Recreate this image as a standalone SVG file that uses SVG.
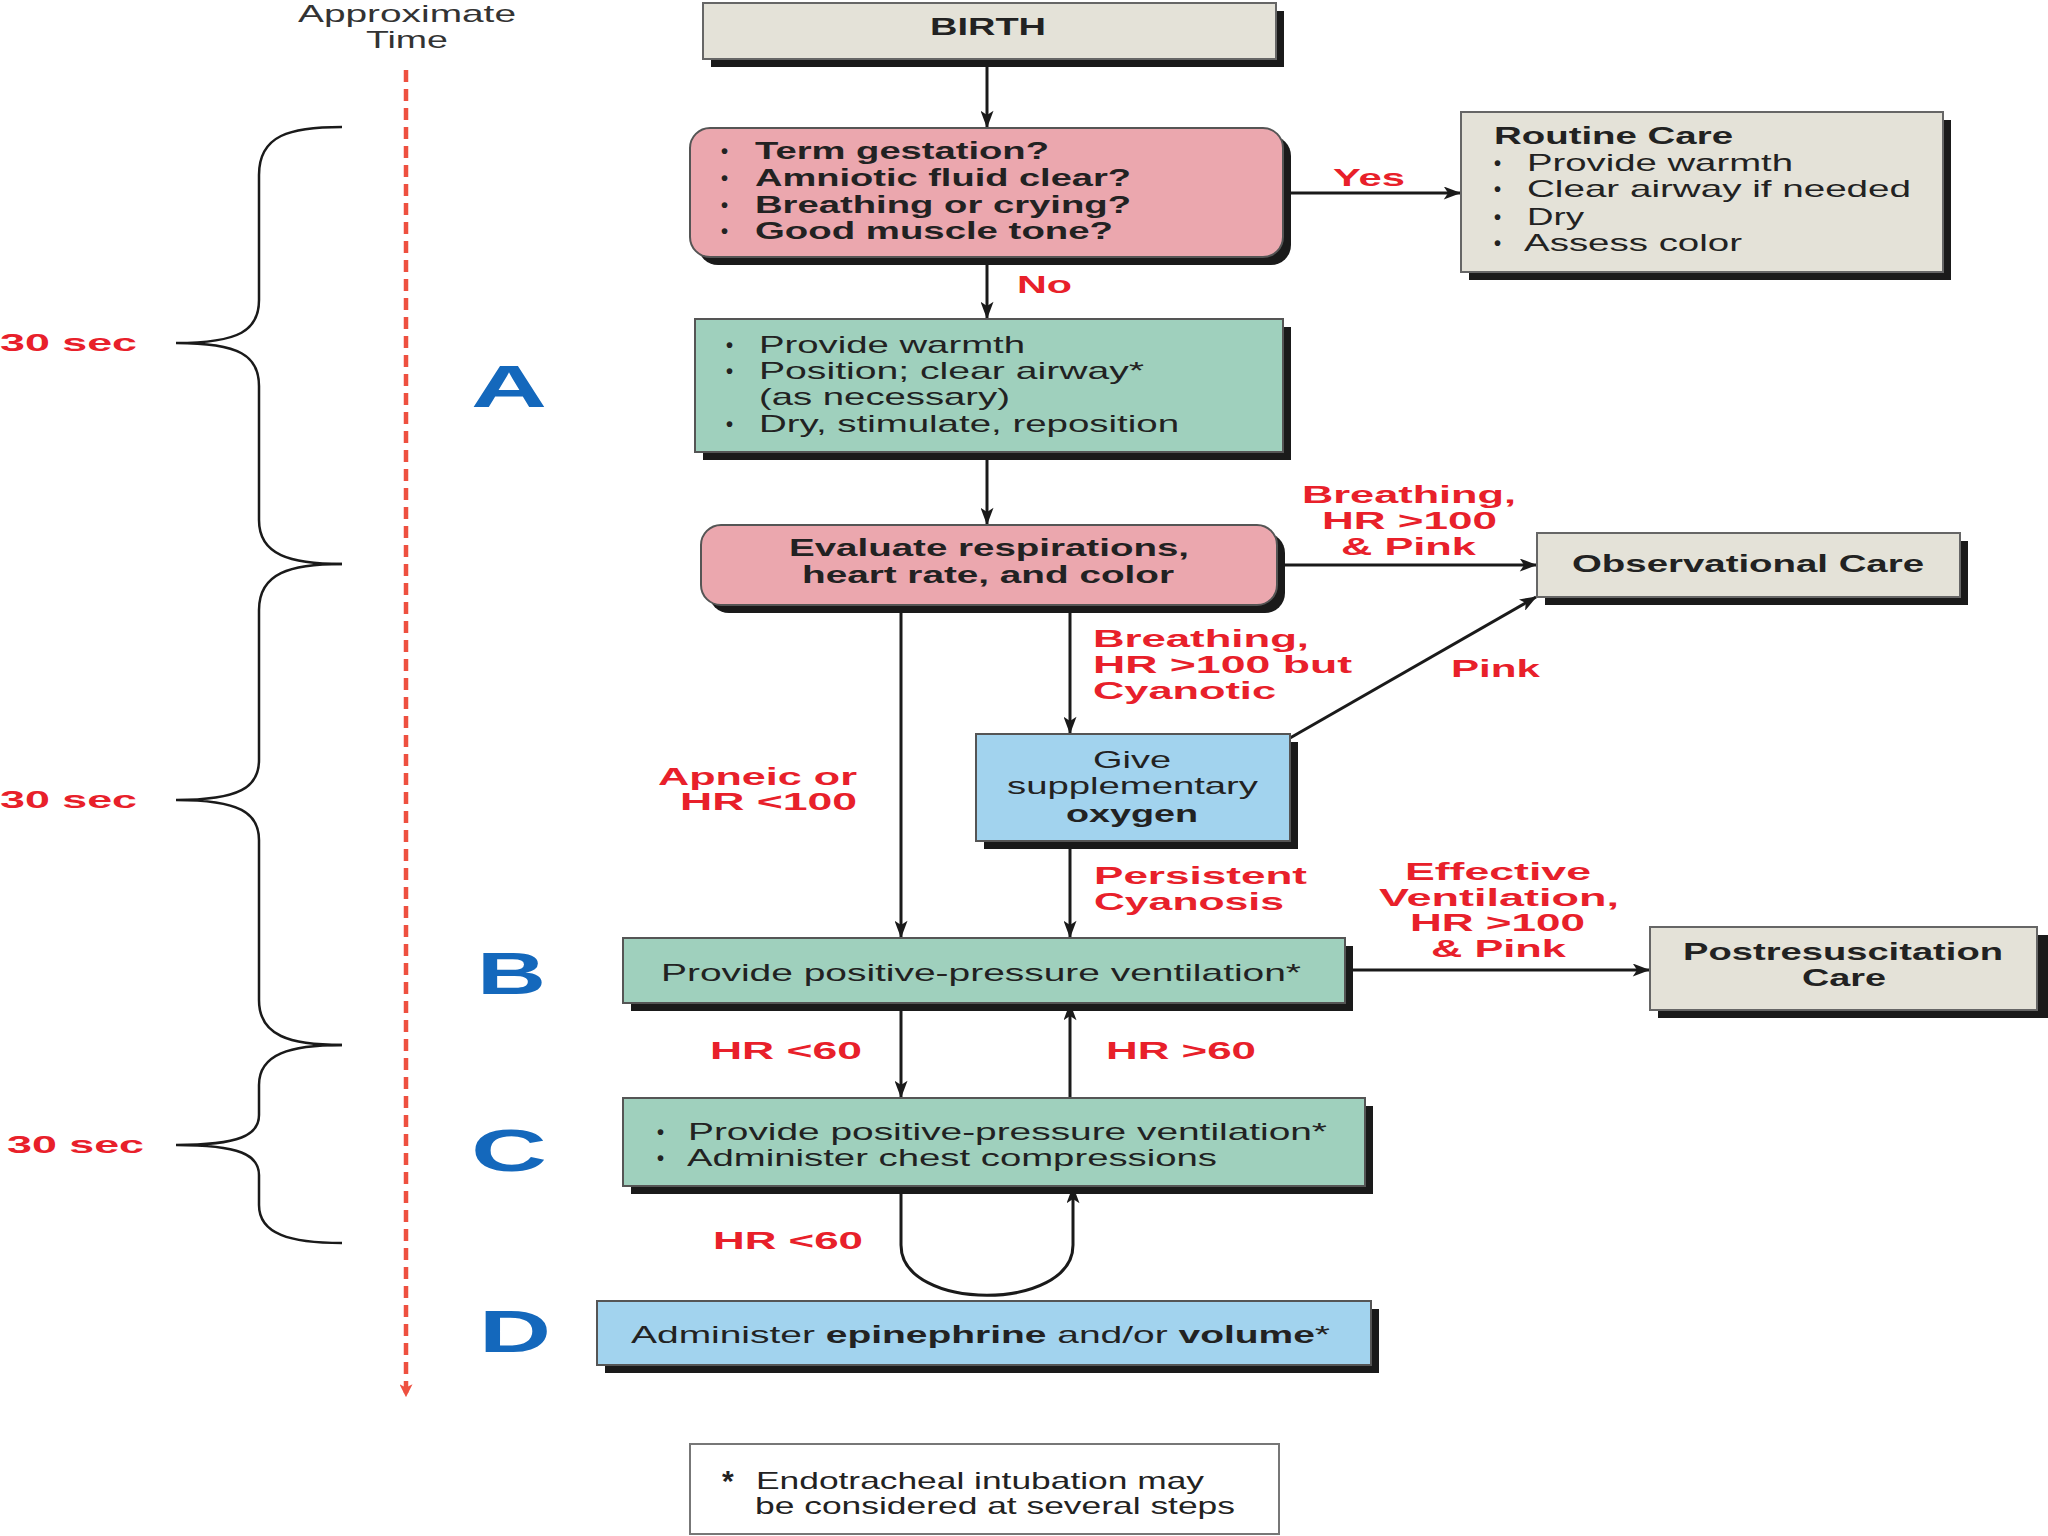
<svg xmlns="http://www.w3.org/2000/svg" width="2048" height="1536" viewBox="0 0 2048 1536">
<defs>
<style>
.t{font-family:"Liberation Sans",Arial,sans-serif;font-size:24px;fill:#222}
.b{font-weight:bold}
.u{font-family:"Liberation Sans",Arial,sans-serif;font-size:20px;font-weight:bold;fill:#222}
.r{font-family:"Liberation Sans",Arial,sans-serif;font-size:24px;font-weight:bold;fill:#E8202A}
.L{font-family:"Liberation Sans",Arial,sans-serif;font-size:60px;font-weight:bold;fill:#1468BC}
.sh{fill:#1a1a1a}
.gray{fill:#E4E2D8;stroke:#666;stroke-width:2}
.pink{fill:#EBA7AE;stroke:#555;stroke-width:2}
.green{fill:#9FD0BD;stroke:#555;stroke-width:2}
.blue{fill:#A2D3EE;stroke:#555;stroke-width:2}
.c{fill:none;stroke:#1a1a1a;stroke-width:3}
.br{fill:none;stroke:#1a1a1a;stroke-width:2.5}
</style>
<marker id="ah" viewBox="0 0 16 12" markerWidth="18" markerHeight="13" refX="15" refY="6" orient="auto" markerUnits="userSpaceOnUse">
<path d="M0,0 L16,6 L0,12 L4,6 z" fill="#1a1a1a"/>
</marker>
<marker id="rah" viewBox="0 0 12 12" markerWidth="13" markerHeight="13" refX="10" refY="6" orient="auto" markerUnits="userSpaceOnUse">
<path d="M0,0 L12,6 L0,12 L3,6 z" fill="#EE5040"/>
</marker>
</defs>
<rect width="2048" height="1536" fill="#fff"/>

<g id="timeline">
<text class="t" x="298" y="22" textLength="218" lengthAdjust="spacingAndGlyphs" style="fill:#333">Approximate</text>
<text class="t" x="366" y="48" textLength="82" lengthAdjust="spacingAndGlyphs" style="fill:#333">Time</text>
<line x1="406" y1="70" x2="406" y2="1395" stroke="#EE5040" stroke-width="4.5" stroke-dasharray="12,7" marker-end="url(#rah)"/>
</g>

<g id="braces">
<path class="br" d="M342,127 C290,127 259,135 259,175 L259,300 C259,330 240,343 176,343 C240,343 259,356 259,386 L259,520 C259,555 290,564 342,564"/>
<path class="br" d="M342,564 C290,564 259,573 259,610 L259,760 C259,787 240,800 176,800 C240,800 259,813 259,840 L259,1000 C259,1036 290,1045 342,1045"/>
<path class="br" d="M342,1045 C290,1045 259,1054 259,1085 L259,1115 C259,1135 240,1145 176,1145 C240,1145 259,1155 259,1175 L259,1205 C259,1234 290,1243 342,1243"/>
<text class="r" x="0" y="351" textLength="137" lengthAdjust="spacingAndGlyphs">30 sec</text>
<text class="r" x="0" y="808" textLength="137" lengthAdjust="spacingAndGlyphs">30 sec</text>
<text class="r" x="7" y="1153" textLength="137" lengthAdjust="spacingAndGlyphs">30 sec</text>
</g>

<g id="letters">
<text class="L" x="471" y="407" textLength="76" lengthAdjust="spacingAndGlyphs">A</text>
<text class="L" x="477" y="994" textLength="69" lengthAdjust="spacingAndGlyphs">B</text>
<text class="L" x="471" y="1171" textLength="76" lengthAdjust="spacingAndGlyphs">C</text>
<text class="L" x="479" y="1352" textLength="72" lengthAdjust="spacingAndGlyphs">D</text>
</g>

<g id="connectors">
<line class="c" x1="987" y1="59" x2="987" y2="127" marker-end="url(#ah)"/>
<line class="c" x1="987" y1="257" x2="987" y2="318" marker-end="url(#ah)"/>
<line class="c" x1="1283" y1="193" x2="1460" y2="193" marker-end="url(#ah)"/>
<line class="c" x1="987" y1="452" x2="987" y2="524" marker-end="url(#ah)"/>
<line class="c" x1="1277" y1="565" x2="1536" y2="565" marker-end="url(#ah)"/>
<line class="c" x1="1070" y1="605" x2="1070" y2="733" marker-end="url(#ah)"/>
<line class="c" x1="1290" y1="738" x2="1536" y2="597" marker-end="url(#ah)"/>
<line class="c" x1="901" y1="605" x2="901" y2="937" marker-end="url(#ah)"/>
<line class="c" x1="1070" y1="841" x2="1070" y2="937" marker-end="url(#ah)"/>
<line class="c" x1="1345" y1="970" x2="1649" y2="970" marker-end="url(#ah)"/>
<line class="c" x1="901" y1="1003" x2="901" y2="1097" marker-end="url(#ah)"/>
<line class="c" x1="1070" y1="1098" x2="1070" y2="1004" marker-end="url(#ah)"/>
<path class="c" d="M901,1186 L901,1245 C901,1312 1073,1312 1073,1245 L1073,1187" marker-end="url(#ah)"/>
<text class="r" x="1333" y="186" textLength="72" lengthAdjust="spacingAndGlyphs">Yes</text>
<text class="r" x="1017" y="293" textLength="55" lengthAdjust="spacingAndGlyphs">No</text>
<text class="r" x="1302" y="503" textLength="214" lengthAdjust="spacingAndGlyphs">Breathing,</text>
<text class="r" x="1322" y="529" textLength="175" lengthAdjust="spacingAndGlyphs">HR &gt;100</text>
<text class="r" x="1341" y="555" textLength="135" lengthAdjust="spacingAndGlyphs">&amp; Pink</text>
<text class="r" x="1093" y="647" textLength="216" lengthAdjust="spacingAndGlyphs">Breathing,</text>
<text class="r" x="1093" y="673" textLength="259" lengthAdjust="spacingAndGlyphs">HR &gt;100 but</text>
<text class="r" x="1093" y="699" textLength="183" lengthAdjust="spacingAndGlyphs">Cyanotic</text>
<text class="r" x="1451" y="677" textLength="89" lengthAdjust="spacingAndGlyphs">Pink</text>
<text class="r" x="658" y="785" textLength="199" lengthAdjust="spacingAndGlyphs">Apneic or</text>
<text class="r" x="680" y="810" textLength="177" lengthAdjust="spacingAndGlyphs">HR &lt;100</text>
<text class="r" x="1094" y="884" textLength="213" lengthAdjust="spacingAndGlyphs">Persistent</text>
<text class="r" x="1094" y="910" textLength="190" lengthAdjust="spacingAndGlyphs">Cyanosis</text>
<text class="r" x="1405" y="880" textLength="186" lengthAdjust="spacingAndGlyphs">Effective</text>
<text class="r" x="1379" y="906" textLength="240" lengthAdjust="spacingAndGlyphs">Ventilation,</text>
<text class="r" x="1410" y="931" textLength="175" lengthAdjust="spacingAndGlyphs">HR &gt;100</text>
<text class="r" x="1431" y="957" textLength="135" lengthAdjust="spacingAndGlyphs">&amp; Pink</text>
<text class="r" x="710" y="1059" textLength="152" lengthAdjust="spacingAndGlyphs">HR &lt;60</text>
<text class="r" x="1106" y="1059" textLength="150" lengthAdjust="spacingAndGlyphs">HR &gt;60</text>
<text class="r" x="713" y="1249" textLength="150" lengthAdjust="spacingAndGlyphs">HR &lt;60</text>
</g>

<g id="birth">
<rect class="sh" x="711" y="11" width="573" height="56"/>
<rect class="gray" x="703" y="3" width="573" height="56"/>
<text class="t b" x="930" y="35" textLength="116" lengthAdjust="spacingAndGlyphs">BIRTH</text>
</g>

<g id="questions">
<rect class="sh" x="698" y="136" width="593" height="129" rx="20"/>
<rect class="pink" x="690" y="128" width="593" height="129" rx="20"/>
<g class="u">
<text x="721" y="158">•</text><text x="721" y="185">•</text><text x="721" y="212">•</text><text x="721" y="238">•</text>
</g>
<g class="t b">
<text x="755" y="159" textLength="294" lengthAdjust="spacingAndGlyphs">Term gestation?</text>
<text x="755" y="186" textLength="376" lengthAdjust="spacingAndGlyphs">Amniotic fluid clear?</text>
<text x="755" y="213" textLength="376" lengthAdjust="spacingAndGlyphs">Breathing or crying?</text>
<text x="755" y="239" textLength="358" lengthAdjust="spacingAndGlyphs">Good muscle tone?</text>
</g>
</g>

<g id="routine">
<rect class="sh" x="1469" y="120" width="482" height="160"/>
<rect class="gray" x="1461" y="112" width="482" height="160"/>
<text class="t b" x="1494" y="144" textLength="239" lengthAdjust="spacingAndGlyphs">Routine Care</text>
<g class="u">
<text x="1494" y="170">•</text><text x="1494" y="196">•</text><text x="1494" y="224">•</text><text x="1494" y="250">•</text>
</g>
<g class="t">
<text x="1527" y="171" textLength="266" lengthAdjust="spacingAndGlyphs">Provide warmth</text>
<text x="1527" y="197" textLength="384" lengthAdjust="spacingAndGlyphs">Clear airway if needed</text>
<text x="1527" y="225" textLength="57" lengthAdjust="spacingAndGlyphs">Dry</text>
<text x="1524" y="251" textLength="218" lengthAdjust="spacingAndGlyphs">Assess color</text>
</g>
</g>

<g id="stepA">
<rect class="sh" x="703" y="327" width="588" height="133"/>
<rect class="green" x="695" y="319" width="588" height="133"/>
<g class="u">
<text x="726" y="352">•</text><text x="726" y="378">•</text><text x="726" y="431">•</text>
</g>
<g class="t">
<text x="759" y="353" textLength="266" lengthAdjust="spacingAndGlyphs">Provide warmth</text>
<text x="759" y="379" textLength="385" lengthAdjust="spacingAndGlyphs">Position; clear airway*</text>
<text x="759" y="405" textLength="251" lengthAdjust="spacingAndGlyphs">(as necessary)</text>
<text x="759" y="432" textLength="420" lengthAdjust="spacingAndGlyphs">Dry, stimulate, reposition</text>
</g>
</g>

<g id="evaluate">
<rect class="sh" x="709" y="533" width="576" height="80" rx="20"/>
<rect class="pink" x="701" y="525" width="576" height="80" rx="20"/>
<text class="t b" x="789" y="556" textLength="400" lengthAdjust="spacingAndGlyphs">Evaluate respirations,</text>
<text class="t b" x="802" y="583" textLength="372" lengthAdjust="spacingAndGlyphs">heart rate, and color</text>
</g>

<g id="observational">
<rect class="sh" x="1545" y="541" width="423" height="64"/>
<rect class="gray" x="1537" y="533" width="423" height="64"/>
<text class="t b" x="1572" y="572" textLength="352" lengthAdjust="spacingAndGlyphs">Observational Care</text>
</g>

<g id="oxygen">
<rect class="sh" x="984" y="742" width="314" height="107"/>
<rect class="blue" x="976" y="734" width="314" height="107"/>
<text class="t" x="1093" y="768" textLength="78" lengthAdjust="spacingAndGlyphs">Give</text>
<text class="t" x="1007" y="794" textLength="251" lengthAdjust="spacingAndGlyphs">supplementary</text>
<text class="t b" x="1066" y="822" textLength="132" lengthAdjust="spacingAndGlyphs">oxygen</text>
</g>

<g id="stepB">
<rect class="sh" x="631" y="946" width="722" height="65"/>
<rect class="green" x="623" y="938" width="722" height="65"/>
<text class="t" x="661" y="981" textLength="640" lengthAdjust="spacingAndGlyphs">Provide positive-pressure ventilation*</text>
</g>

<g id="postresus">
<rect class="sh" x="1658" y="935" width="390" height="83"/>
<rect class="gray" x="1650" y="927" width="387" height="83"/>
<text class="t b" x="1683" y="960" textLength="320" lengthAdjust="spacingAndGlyphs">Postresuscitation</text>
<text class="t b" x="1802" y="986" textLength="84" lengthAdjust="spacingAndGlyphs">Care</text>
</g>

<g id="stepC">
<rect class="sh" x="631" y="1106" width="742" height="88"/>
<rect class="green" x="623" y="1098" width="742" height="88"/>
<g class="u">
<text x="657" y="1139">•</text><text x="657" y="1165">•</text>
</g>
<g class="t">
<text x="688" y="1140" textLength="639" lengthAdjust="spacingAndGlyphs">Provide positive-pressure ventilation*</text>
<text x="687" y="1166" textLength="530" lengthAdjust="spacingAndGlyphs">Administer chest compressions</text>
</g>
</g>

<g id="stepD">
<rect class="sh" x="605" y="1309" width="774" height="64"/>
<rect class="blue" x="597" y="1301" width="774" height="64"/>
<text class="t" x="631" y="1343" textLength="699" lengthAdjust="spacingAndGlyphs">Administer <tspan class="b">epinephrine</tspan> and/or <tspan class="b">volume</tspan>*</text>
</g>

<g id="footnote">
<rect x="690" y="1444" width="589" height="90" fill="#fff" stroke="#777" stroke-width="2"/>
<text class="t b" x="722" y="1491" style="font-size:30px">*</text>
<text class="t" x="756" y="1489" textLength="448" lengthAdjust="spacingAndGlyphs">Endotracheal intubation may</text>
<text class="t" x="755" y="1514" textLength="480" lengthAdjust="spacingAndGlyphs">be considered at several steps</text>
</g>
</svg>
